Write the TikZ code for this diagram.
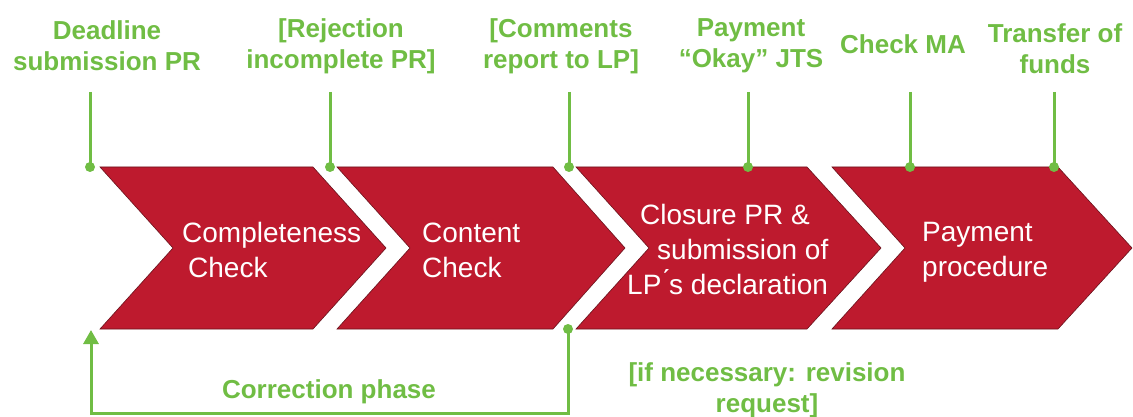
\documentclass[tikz,border=0pt]{standalone}
\usepackage{fontspec}
\setmainfont{Liberation Sans}
\usetikzlibrary{arrows.meta}
\definecolor{chevred}{RGB}{190,26,46}
\definecolor{chevedge}{RGB}{105,18,28}
\definecolor{lblgreen}{RGB}{112,189,68}
\tikzset{
  chev/.style={fill=chevred, draw=chevedge, line width=0.6pt},
  lbl/.style={text=lblgreen, font=\fontsize{26}{31}\selectfont\bfseries, align=center, inner sep=0pt},
  ctext/.style={text=white, font=\fontsize{28}{35}\selectfont, align=left, inner sep=0pt, anchor=west},
  gline/.style={draw=lblgreen, line width=3pt},
  gdot/.style={circle, fill=lblgreen, inner sep=0pt, minimum size=10pt},
}
\newcommand\mychevron[3]{%
  \path[chev] (#1,167) -- (#2,167) -- (#3,248) -- (#2,329) -- (#1,329) -- (#1+73,248) -- cycle;}
\begin{document}
\begin{tikzpicture}[x=1pt,y=-1pt]
\useasboundingbox (0,0) rectangle (1133,417);
% chevrons
\mychevron{100}{313}{386}
\mychevron{337}{553}{625}
\mychevron{576}{807}{881}
\mychevron{832}{1058}{1132}
% chevron texts
\node[ctext] (t1) at (182,250) {Completeness\\\hspace*{6pt}Check};
\node[ctext] (t2) at (422,250) {Content\\Check};
\node[ctext] (t3) at (627,249) {\hspace*{13pt}Closure PR \&\\\hspace*{30pt}submission of\\LP\'{}s declaration};
\node[ctext] (t4) at (922,252) {Payment\\procedure};
% top labels
\node[lbl] (l1) at (107,46) {Deadline\\submission PR};
\node[lbl] (l2) at (341,46) {[Rejection\\incomplete PR]};
\node[lbl] (l3) at (561,46) {[Comments\\report to LP]};
\node[lbl] (l4) at (751,46) {Payment\\“Okay” JTS};
\node[lbl] (l5) at (903,44) {Check MA};
\node[lbl] (l6) at (1055,49) {Transfer of\\funds};
% milestone lines
\foreach \n/\x in {1/90,2/330,3/569,4/748,5/910,6/1054}{
  \coordinate (top\n) at (\x,92);
  \node[gdot] (d\n) at (\x,167) {};
  \draw[gline] (top\n) -- (d\n.center);
}
% correction loop
\node[gdot] (dc) at (568,329) {};
\coordinate (cbr) at (568,413);
\coordinate (cbl) at (91,413);
\coordinate (ctip) at (91,330);
\draw[gline, -{Triangle[width=15pt,length=14pt]}] (dc.center) -- (cbr) -- (cbl) -- (ctip);
\node[lbl] (corr) at (329,392) {Correction phase};
\node[lbl] (rev) at (767,390) {[if necessary: revision\\request]};
\end{tikzpicture}
\end{document}
